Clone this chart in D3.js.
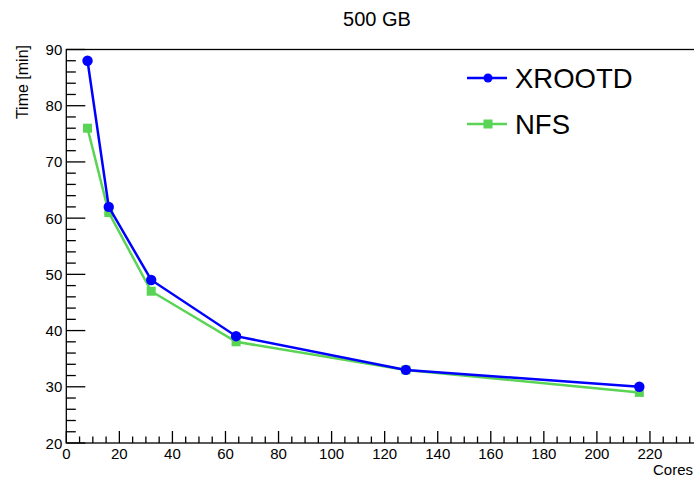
<!DOCTYPE html>
<html><head><meta charset="utf-8">
<script src="https://cdn.jsdelivr.net/npm/d3@7"></script>
<style>body{margin:0;background:#fff}svg{display:block;font-family:"Liberation Sans",Arial,sans-serif}</style>
</head><body>
<svg id="c" width="694" height="480"></svg>
<script>
const cores = [8, 16, 32, 64, 128, 216];
const xrootd = [88, 62, 49, 39, 33, 30];
const nfs = [76, 61, 47, 38, 33, 29];
const seriesNames = ["XROOTD", "NFS"];
const xTicks = [0,20,40,60,80,100,120,140,160,180,200,220];
const yTicks = [20,30,40,50,60,70,80,90];

(function(){
const svg = d3.select("#c");
const W = 694, H = 480;
const pLeft = 66.3, pTop = 49.5, pBottom = 443;
const x = d3.scaleLinear().domain([0, 245]).range([pLeft, pLeft + 245*2.653]);
const y = d3.scaleLinear().domain([20, 90]).range([pBottom, pTop]);
const blue = "#0000ff", green = "#59d454";

svg.append("rect").attr("width",W).attr("height",H).attr("fill","#fff");

const g = svg.append("g");
g.append("rect").attr("x",x(0)).attr("y",y(90)).attr("width",x(245)-x(0)).attr("height",y(20)-y(90))
  .attr("fill","none").attr("stroke","#000").attr("stroke-width",1.3);

const xMinor = d3.range(0, 246, 5);
g.selectAll(".xm").data(xMinor).join("line")
  .attr("x1",d=>x(d)).attr("x2",d=>x(d)).attr("y1",pBottom).attr("y2",d=>pBottom-(d%20===0?12:6.5))
  .attr("stroke","#000").attr("stroke-width",1.3);
g.selectAll(".xl").data(xTicks).join("text")
  .attr("x",d=>x(d)).attr("y",pBottom+16).attr("text-anchor","middle").attr("font-size",15).text(d=>d);

const yMinor = d3.range(20, 90.1, 2);
g.selectAll(".ym").data(yMinor).join("line")
  .attr("y1",d=>y(d)).attr("y2",d=>y(d)).attr("x1",pLeft).attr("x2",d=>pLeft+(d%10===0?19:9.5))
  .attr("stroke","#000").attr("stroke-width",1.3);
g.selectAll(".yl").data(yTicks).join("text")
  .attr("x",pLeft-4).attr("y",d=>y(d)+5.5).attr("text-anchor","end").attr("font-size",15).text(d=>d);

svg.append("text").attr("x",377).attr("y",26).attr("text-anchor","middle").attr("font-size",20).text("500 GB");
svg.append("text").attr("x",693).attr("y",475).attr("text-anchor","end").attr("font-size",15).text("Cores");
svg.append("text").attr("transform","translate(28,45) rotate(-90)").attr("text-anchor","end").attr("font-size",16).text("Time [min]");

const line = d3.line().x(d=>x(d[0])).y(d=>y(d[1]));
const nfsPts = cores.map((c,i)=>[c,nfs[i]]);
const xrPts = cores.map((c,i)=>[c,xrootd[i]]);
svg.append("path").attr("d",line(nfsPts)).attr("fill","none").attr("stroke",green).attr("stroke-width",2.5);
svg.selectAll(".sq").data(nfsPts).join("rect")
  .attr("x",d=>x(d[0])-4.5).attr("y",d=>y(d[1])-4.5).attr("width",9).attr("height",9).attr("fill",green);
svg.append("path").attr("d",line(xrPts)).attr("fill","none").attr("stroke",blue).attr("stroke-width",2.5);
svg.selectAll(".ci").data(xrPts).join("circle")
  .attr("cx",d=>x(d[0])).attr("cy",d=>y(d[1])).attr("r",5.2).attr("fill",blue);

const leg = svg.append("g");
const legY = [78, 124];
const cols = [blue, green];
seriesNames.forEach((n,i)=>{
  leg.append("line").attr("x1",467).attr("x2",507).attr("y1",legY[i]).attr("y2",legY[i]).attr("stroke",cols[i]).attr("stroke-width",2.5);
  if(i===0) leg.append("circle").attr("cx",488).attr("cy",legY[i]).attr("r",4.5).attr("fill",cols[i]);
  else leg.append("rect").attr("x",488-4.5).attr("y",legY[i]-4.5).attr("width",9).attr("height",9).attr("fill",cols[i]);
  leg.append("text").attr("x",515).attr("y",legY[i]+10).attr("font-size",27.5).text(n);
});
})();
</script>
</body></html>
